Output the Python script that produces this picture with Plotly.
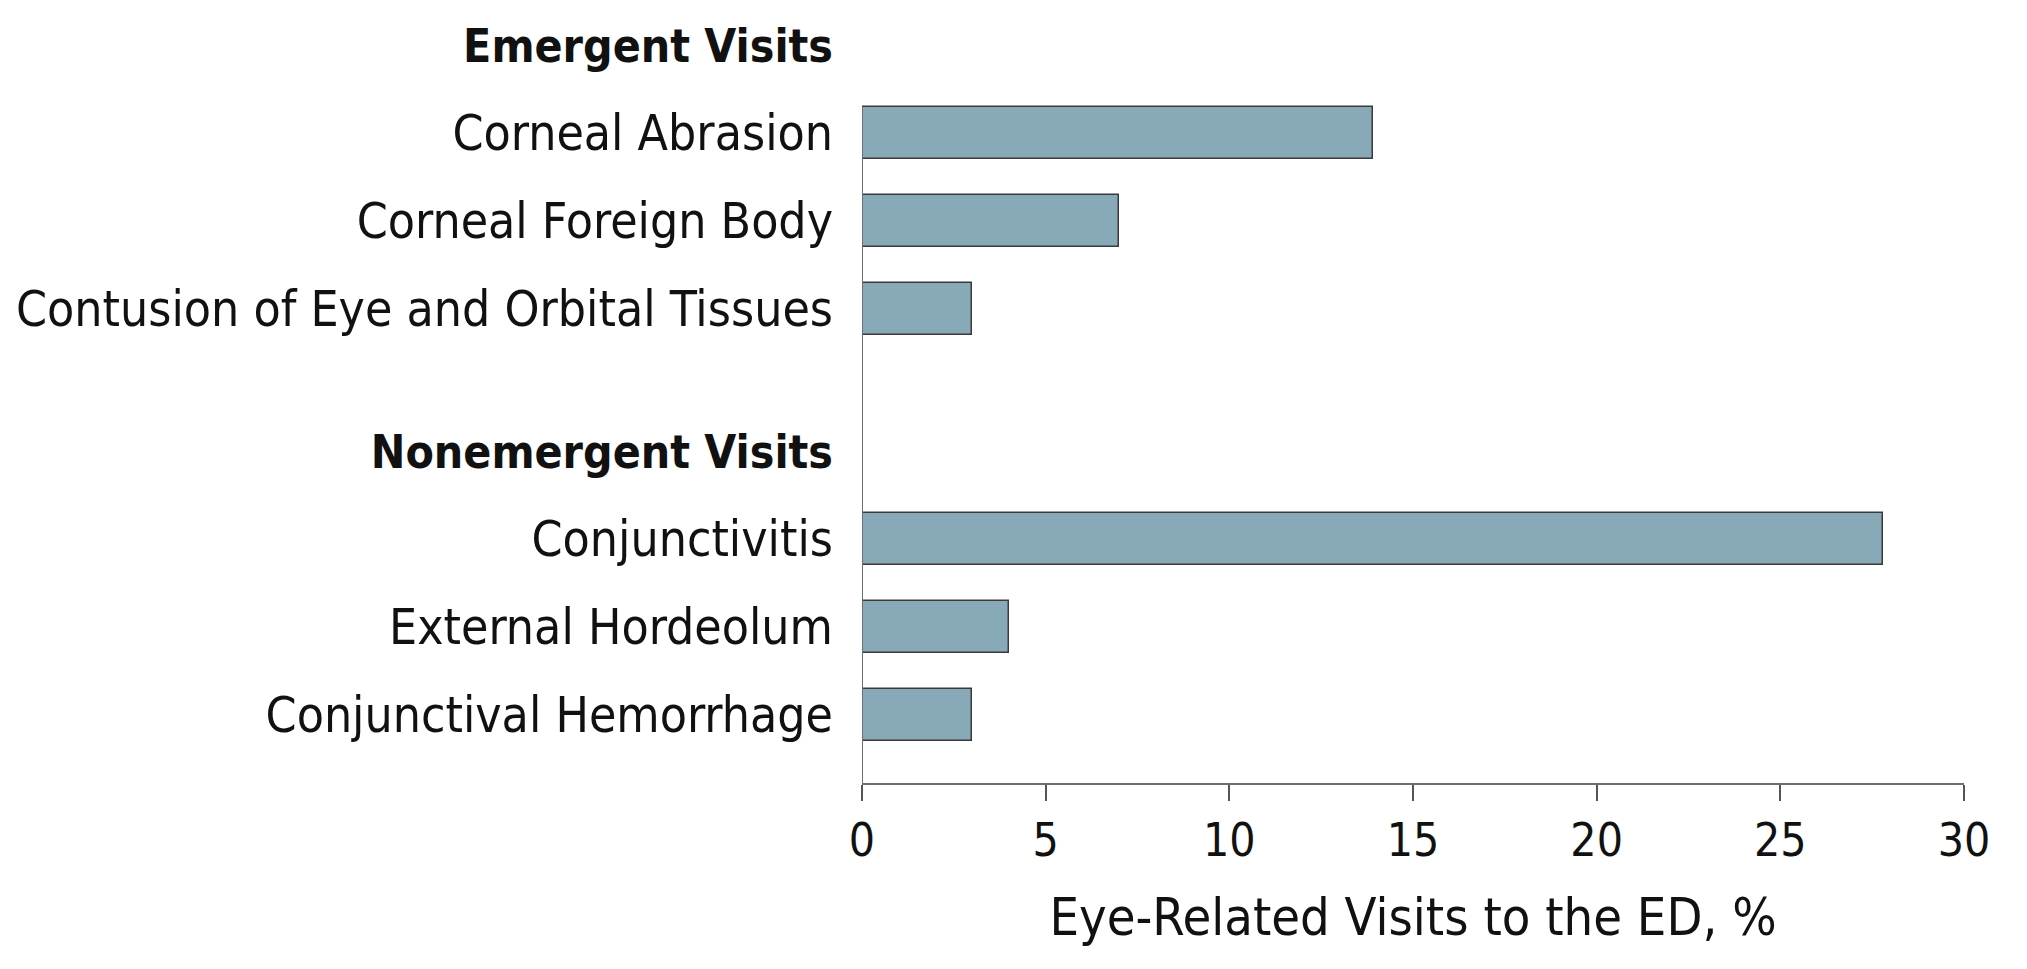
import plotly.graph_objects as go

groups = ["Emergent Visits", "Nonemergent Visits"]
emergent_labels = ["Corneal Abrasion", "Corneal Foreign Body", "Contusion of Eye and Orbital Tissues"]
emergent_values = [13.9, 7.0, 3.0]
nonemergent_labels = ["Conjunctivitis", "External Hordeolum", "Conjunctival Hemorrhage"]
nonemergent_values = [27.8, 4.0, 3.0]
x_ticks = [0, 5, 10, 15, 20, 25, 30]
x_title = "Eye-Related Visits to the ED, %"

FONT = "DejaVu Sans Condensed, Liberation Sans Narrow, sans-serif"
BAR_COLOR = "#87a9b8"
EDGE = "#3a3a3a"
GROUP_GAP = 1.61
BAR_W = 0.59

# compute slot positions
header_pos = []
bar_pos = []
bar_lab = []
bar_val = []
pos = 0.0
for gi, (labs, vals) in enumerate([(emergent_labels, emergent_values),
                                   (nonemergent_labels, nonemergent_values)]):
    if gi > 0:
        pos += GROUP_GAP
    header_pos.append(pos)
    for l, v in zip(labs, vals):
        pos += 1
        bar_pos.append(pos)
        bar_lab.append(l)
        bar_val.append(v)

y_bottom = bar_pos[-1] + 0.77
y_top = header_pos[0] - 0.395

fig = go.Figure()
fig.add_trace(go.Bar(
    x=bar_val, y=bar_pos, orientation="h", width=BAR_W,
    marker=dict(color=BAR_COLOR, line=dict(color=EDGE, width=1.5)),
    hoverinfo="x+text", text=bar_lab, textposition="none",
))

tickvals = header_pos + bar_pos
ticktext = [f'<span style="font-size:46px"><b>{g}</b></span>' for g in groups] + bar_lab

fig.add_shape(type="line", xref="x", yref="y", x0=0, x1=0,
              y0=bar_pos[0] - BAR_W / 2, y1=y_bottom,
              line=dict(color="#6e6e6e", width=2), layer="above")

fig.update_layout(
    width=2027, height=969,
    paper_bgcolor="white", plot_bgcolor="white",
    margin=dict(l=862, r=63, t=10, b=186),
    font=dict(family=FONT, size=46, color="#111111"),
    showlegend=False, bargap=0,
    xaxis=dict(range=[0, 30], tickvals=x_ticks, ticks="outside", ticklen=16,
               tickwidth=2, tickcolor="#555555", showline=True, linewidth=2,
               linecolor="#6e6e6e", showgrid=False, zeroline=False,
               tickfont=dict(size=46), ticklabelstandoff=0, automargin=False,
               title=dict(text=x_title, font=dict(size=52), standoff=32)),
    yaxis=dict(range=[y_bottom, y_top], tickvals=tickvals, ticktext=ticktext,
               showgrid=False, zeroline=False, showline=False, ticks="",
               ticklabelstandoff=28, tickfont=dict(size=49.5), automargin=False),
)

# remove the browser's default 8px page margin so the figure fills the window
fig.write_html("out.html",
               config={"displayModeBar": False},
               post_script="document.body.style.margin='0';")
